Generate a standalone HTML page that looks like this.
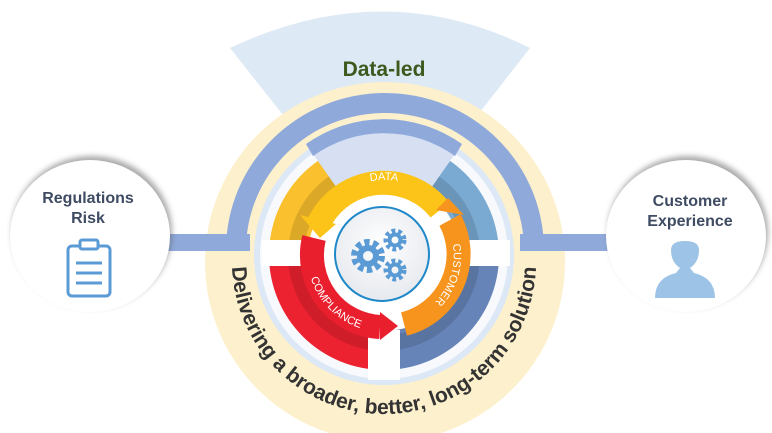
<!DOCTYPE html>
<html><head><meta charset="utf-8"><style>
html,body{margin:0;padding:0;background:#fff;width:772px;height:433px;overflow:hidden}
svg{display:block}
</style></head><body>
<svg width="772" height="433" viewBox="0 0 772 433" xmlns="http://www.w3.org/2000/svg" font-family="Liberation Sans, sans-serif">
<defs>
<filter id="sh" x="-20%" y="-20%" width="140%" height="140%"><feGaussianBlur stdDeviation="3"/></filter>
<radialGradient id="cg" cx="50%" cy="40%" r="60%"><stop offset="0" stop-color="#ffffff"/><stop offset="1" stop-color="#e6e9ee"/></radialGradient>
</defs>
<path d="M230,48 Q384,-25 530,48 L480,112 Q384,72 283,115 Z" fill="#dde9f5"/>
<circle cx="385" cy="262" r="180" fill="#fdf0cc"/>
<rect x="160" y="234" width="90" height="17" fill="#8fa9db"/>
<rect x="520" y="234" width="95" height="17" fill="#8fa9db"/>
<path d="M226,251 L226,250 A159,157 0 0 1 544,250 L544,251 L524,251 L524,250 A139,137 0 0 0 246,250 L246,251 Z" fill="#8fa9db"/>
<circle cx="384" cy="255" r="130" fill="#dce8f6"/>
<circle cx="384" cy="255" r="124" fill="#f7f9fc"/>
<path d="M384,255 L269,255 A115,115 0 0 1 384,140 Z" fill="#fbc02d"/>
<path d="M384,255 L384,140 A115,115 0 0 1 499,255 Z" fill="#7aaad2"/>
<path d="M384,255 L499,255 A115,115 0 0 1 384,370 Z" fill="#6784b9"/>
<path d="M384,255 L384,370 A115,115 0 0 1 269,255 Z" fill="#ec2230"/>
<circle cx="384" cy="255" r="88" fill="none" stroke="#000" stroke-opacity="0.12" stroke-width="16"/>
<path d="M384,255 L306,144 A135,135 0 0 1 462,144 Z" fill="#d6e0f2"/>
<path d="M306,144 A135,135 0 0 1 462,144 L455,156 A122,122 0 0 0 313,156 Z" fill="#8fa9db"/>
<rect x="262" y="240" width="45" height="26" fill="#fff"/>
<rect x="462" y="240" width="48" height="26" fill="#fff"/>
<rect x="368" y="330" width="32" height="50" fill="#fff"/>
<circle cx="384" cy="255" r="76" fill="#fff"/>
<path d="M318,225 A72,72 0 0 1 440,210" fill="none" stroke="#fcc419" stroke-width="24"/>
<polygon points="300,215 336,224 320,238" fill="#fcc419"/>
<path d="M450,220 A72,72 0 0 1 404,324" fill="none" stroke="#f7941d" stroke-width="24"/>
<polygon points="436,210 448,198 464,215" fill="#f7941d"/>
<path d="M380,327 A72,72 0 0 1 314,238" fill="none" stroke="#ea1f2e" stroke-width="24"/>
<polygon points="380,312 398,326 380,340" fill="#ea1f2e"/>
<path id="dataP" d="M322,220 A68,68 0 0 1 446,220" fill="none"/>
<path id="custP" d="M447,226 A68,68 0 0 1 420,314" fill="none"/>
<path id="compP" d="M308,266 A77,77 0 0 0 372,331" fill="none"/>
<text font-size="11" fill="#fff"><textPath href="#dataP" startOffset="50%" text-anchor="middle">DATA</textPath></text>
<text font-size="11" fill="#fff"><textPath href="#custP" startOffset="50%" text-anchor="middle">CUSTOMER</textPath></text>
<text font-size="11" fill="#fff"><textPath href="#compP" startOffset="50%" text-anchor="middle">COMPLIANCE</textPath></text>
<circle cx="382" cy="254" r="47" fill="url(#cg)" stroke="#1e88c8" stroke-width="2"/>
<g fill="none" stroke="#5b9bd5">
<circle cx="368" cy="256" r="13" stroke-width="8" stroke-dasharray="5 3.2"/>
<circle cx="368" cy="256" r="8" stroke-width="6"/>
<circle cx="395" cy="240" r="8.5" stroke-width="6" stroke-dasharray="3.5 2.6"/>
<circle cx="395" cy="240" r="5.5" stroke-width="4"/>
<circle cx="395" cy="270" r="8.5" stroke-width="6" stroke-dasharray="3.5 2.6"/>
<circle cx="395" cy="270" r="5.5" stroke-width="4"/>
</g>
<path id="arcT" d="M232,262 A152,152 0 0 0 536,262" fill="none"/>
<text font-size="21" font-weight="bold" fill="#333"><textPath href="#arcT" startOffset="50%" text-anchor="middle">Delivering a broader, better, long-term solution</textPath></text>
<text x="384" y="76" font-size="21" font-weight="bold" fill="#3d5a1e" text-anchor="middle">Data-led</text>
<ellipse cx="92" cy="232" rx="80" ry="76" fill="#555" opacity="0.5" filter="url(#sh)"/>
<ellipse cx="90" cy="236" rx="80" ry="76" fill="#fff"/>
<ellipse cx="688" cy="232" rx="80" ry="76" fill="#555" opacity="0.5" filter="url(#sh)"/>
<ellipse cx="686" cy="236" rx="80" ry="76" fill="#fff"/>
<text x="88" y="203" font-size="16" font-weight="bold" fill="#3e4b62" text-anchor="middle">Regulations</text>
<text x="88" y="223" font-size="16" font-weight="bold" fill="#3e4b62" text-anchor="middle">Risk</text>
<text x="690" y="206" font-size="16" font-weight="bold" fill="#3e4b62" text-anchor="middle">Customer</text>
<text x="690" y="226" font-size="16" font-weight="bold" fill="#3e4b62" text-anchor="middle">Experience</text>
<rect x="68" y="246" width="42" height="50" rx="4" fill="#fff" stroke="#5b9bd5" stroke-width="3"/>
<rect x="80" y="240" width="18" height="9" rx="2" fill="#fff" stroke="#5b9bd5" stroke-width="3"/>
<g stroke="#5b9bd5" stroke-width="3"><line x1="76" y1="263" x2="102" y2="263"/><line x1="76" y1="273" x2="102" y2="273"/><line x1="76" y1="283" x2="102" y2="283"/></g>
<path d="M655,298 Q655,278 676,273 L680,268 Q671,262 671,250 Q671,241 685,241 Q699,241 699,250 Q699,262 690,268 L694,273 Q715,278 715,298 Z" fill="#9dc3e6"/>
</svg>
</body></html>
